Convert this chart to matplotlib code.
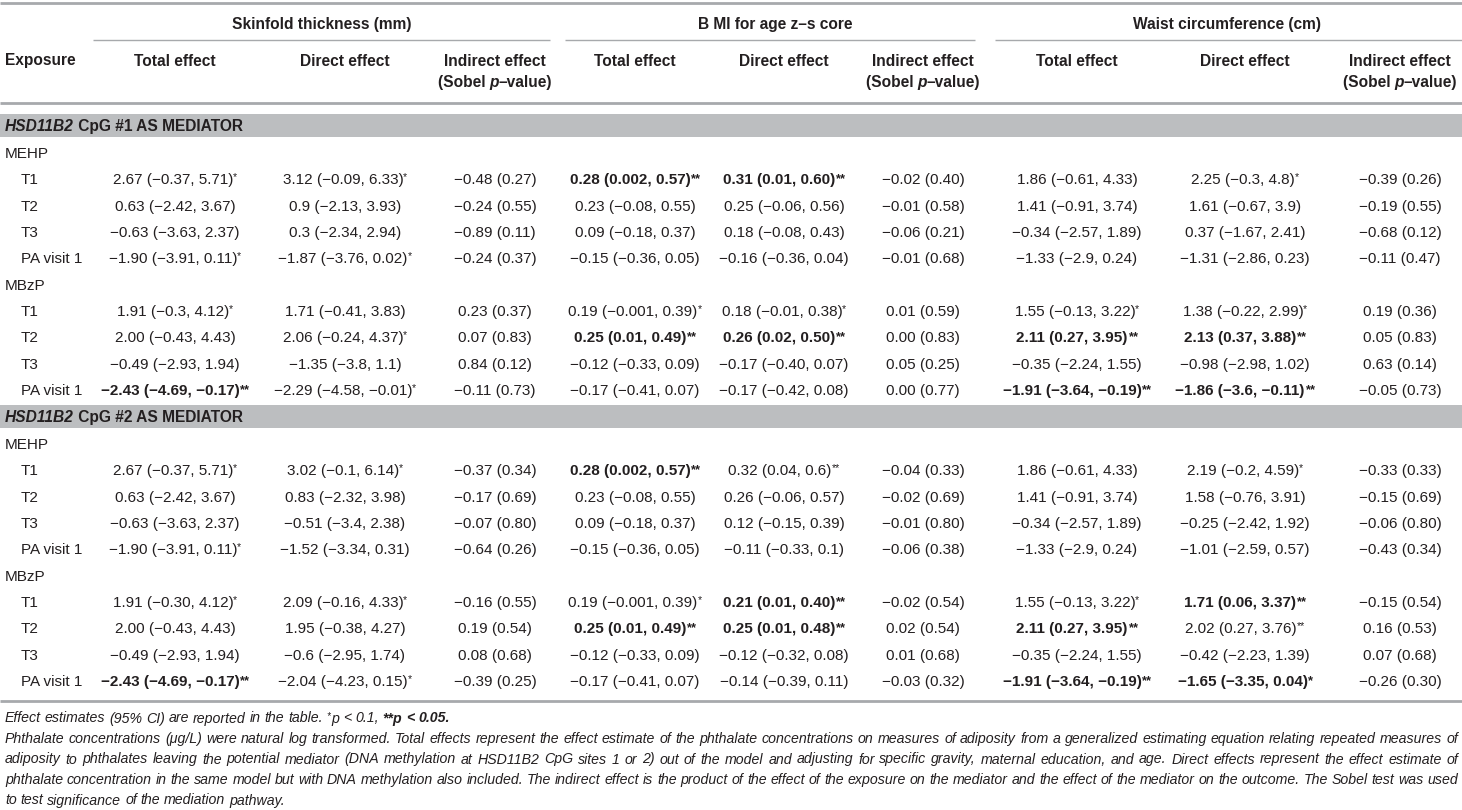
import matplotlib
matplotlib.use("Agg")
import matplotlib.pyplot as plt

plt.rcParams['font.family'] = ['Liberation Sans', 'DejaVu Sans']

# ---- table content ----
outcomes = ["Skinfold thickness (mm)", "B MI for age z\u2013s core", "Waist circumference (cm)"]
effects = ["Total effect", "Direct effect", "Indirect effect"]
indirect_sub = ["(Sobel ", "p", "\u2013value)"]
gene = "HSD11B2"
mediators = [" CpG #1 AS MEDIATOR", " CpG #2 AS MEDIATOR"]
exposures = ["MEHP", "MBzP"]
levels = ["T1", "T2", "T3", "PA visit 1"]

# rows: MEHP T1..PA visit 1, MBzP T1..PA visit 1 ; 9 columns each
cpg1 = [
    ["2.67 (\u22120.37, 5.71)*", "3.12 (\u22120.09, 6.33)*", "\u22120.48 (0.27)", "0.28 (0.002, 0.57)**", "0.31 (0.01, 0.60)**", "\u22120.02 (0.40)", "1.86 (\u22120.61, 4.33)", "2.25 (\u22120.3, 4.8)*", "\u22120.39 (0.26)"],
    ["0.63 (\u22122.42, 3.67)", "0.9 (\u22122.13, 3.93)", "\u22120.24 (0.55)", "0.23 (\u22120.08, 0.55)", "0.25 (\u22120.06, 0.56)", "\u22120.01 (0.58)", "1.41 (\u22120.91, 3.74)", "1.61 (\u22120.67, 3.9)", "\u22120.19 (0.55)"],
    ["\u22120.63 (\u22123.63, 2.37)", "0.3 (\u22122.34, 2.94)", "\u22120.89 (0.11)", "0.09 (\u22120.18, 0.37)", "0.18 (\u22120.08, 0.43)", "\u22120.06 (0.21)", "\u22120.34 (\u22122.57, 1.89)", "0.37 (\u22121.67, 2.41)", "\u22120.68 (0.12)"],
    ["\u22121.90 (\u22123.91, 0.11)*", "\u22121.87 (\u22123.76, 0.02)*", "\u22120.24 (0.37)", "\u22120.15 (\u22120.36, 0.05)", "\u22120.16 (\u22120.36, 0.04)", "\u22120.01 (0.68)", "\u22121.33 (\u22122.9, 0.24)", "\u22121.31 (\u22122.86, 0.23)", "\u22120.11 (0.47)"],
    ["1.91 (\u22120.3, 4.12)*", "1.71 (\u22120.41, 3.83)", "0.23 (0.37)", "0.19 (\u22120.001, 0.39)*", "0.18 (\u22120.01, 0.38)*", "0.01 (0.59)", "1.55 (\u22120.13, 3.22)*", "1.38 (\u22120.22, 2.99)*", "0.19 (0.36)"],
    ["2.00 (\u22120.43, 4.43)", "2.06 (\u22120.24, 4.37)*", "0.07 (0.83)", "0.25 (0.01, 0.49)**", "0.26 (0.02, 0.50)**", "0.00 (0.83)", "2.11 (0.27, 3.95)**", "2.13 (0.37, 3.88)**", "0.05 (0.83)"],
    ["\u22120.49 (\u22122.93, 1.94)", "\u22121.35 (\u22123.8, 1.1)", "0.84 (0.12)", "\u22120.12 (\u22120.33, 0.09)", "\u22120.17 (\u22120.40, 0.07)", "0.05 (0.25)", "\u22120.35 (\u22122.24, 1.55)", "\u22120.98 (\u22122.98, 1.02)", "0.63 (0.14)"],
    ["\u22122.43 (\u22124.69, \u22120.17)**", "\u22122.29 (\u22124.58, \u22120.01)*", "\u22120.11 (0.73)", "\u22120.17 (\u22120.41, 0.07)", "\u22120.17 (\u22120.42, 0.08)", "0.00 (0.77)", "\u22121.91 (\u22123.64, \u22120.19)**", "\u22121.86 (\u22123.6, \u22120.11)**", "\u22120.05 (0.73)"],
]
cpg2 = [
    ["2.67 (\u22120.37, 5.71)*", "3.02 (\u22120.1, 6.14)*", "\u22120.37 (0.34)", "0.28 (0.002, 0.57)**", "0.32 (0.04, 0.6)**", "\u22120.04 (0.33)", "1.86 (\u22120.61, 4.33)", "2.19 (\u22120.2, 4.59)*", "\u22120.33 (0.33)"],
    ["0.63 (\u22122.42, 3.67)", "0.83 (\u22122.32, 3.98)", "\u22120.17 (0.69)", "0.23 (\u22120.08, 0.55)", "0.26 (\u22120.06, 0.57)", "\u22120.02 (0.69)", "1.41 (\u22120.91, 3.74)", "1.58 (\u22120.76, 3.91)", "\u22120.15 (0.69)"],
    ["\u22120.63 (\u22123.63, 2.37)", "\u22120.51 (\u22123.4, 2.38)", "\u22120.07 (0.80)", "0.09 (\u22120.18, 0.37)", "0.12 (\u22120.15, 0.39)", "\u22120.01 (0.80)", "\u22120.34 (\u22122.57, 1.89)", "\u22120.25 (\u22122.42, 1.92)", "\u22120.06 (0.80)"],
    ["\u22121.90 (\u22123.91, 0.11)*", "\u22121.52 (\u22123.34, 0.31)", "\u22120.64 (0.26)", "\u22120.15 (\u22120.36, 0.05)", "\u22120.11 (\u22120.33, 0.1)", "\u22120.06 (0.38)", "\u22121.33 (\u22122.9, 0.24)", "\u22121.01 (\u22122.59, 0.57)", "\u22120.43 (0.34)"],
    ["1.91 (\u22120.30, 4.12)*", "2.09 (\u22120.16, 4.33)*", "\u22120.16 (0.55)", "0.19 (\u22120.001, 0.39)*", "0.21 (0.01, 0.40)**", "\u22120.02 (0.54)", "1.55 (\u22120.13, 3.22)*", "1.71 (0.06, 3.37)**", "\u22120.15 (0.54)"],
    ["2.00 (\u22120.43, 4.43)", "1.95 (\u22120.38, 4.27)", "0.19 (0.54)", "0.25 (0.01, 0.49)**", "0.25 (0.01, 0.48)**", "0.02 (0.54)", "2.11 (0.27, 3.95)**", "2.02 (0.27, 3.76)**", "0.16 (0.53)"],
    ["\u22120.49 (\u22122.93, 1.94)", "\u22120.6 (\u22122.95, 1.74)", "0.08 (0.68)", "\u22120.12 (\u22120.33, 0.09)", "\u22120.12 (\u22120.32, 0.08)", "0.01 (0.68)", "\u22120.35 (\u22122.24, 1.55)", "\u22120.42 (\u22122.23, 1.39)", "0.07 (0.68)"],
    ["\u22122.43 (\u22124.69, \u22120.17)**", "\u22122.04 (\u22124.23, 0.15)*", "\u22120.39 (0.25)", "\u22120.17 (\u22120.41, 0.07)", "\u22120.14 (\u22120.39, 0.11)", "\u22120.03 (0.32)", "\u22121.91 (\u22123.64, \u22120.19)**", "\u22121.65 (\u22123.35, 0.04)*", "\u22120.26 (0.30)"],
]
# (row, column) of the cells printed in bold
bold1 = [(0, 3), (0, 4), (5, 3), (5, 4), (5, 6), (5, 7), (7, 0), (7, 6), (7, 7)]
bold2 = [(0, 3), (4, 4), (4, 7), (5, 3), (5, 4), (5, 6), (7, 0), (7, 6), (7, 7)]

note_first = ["Effect", "estimates", "(95%", "CI)", "are", "reported", "in", "the", "table."]
note_lines = [
    "Phthalate concentrations (\u03bcg/L) were natural log transformed. Total effects represent the effect estimate of the phthalate concentrations on measures of adiposity from a generalized estimating equation relating repeated measures of",
    "adiposity to phthalates leaving the potential mediator (DNA methylation at HSD11B2 CpG sites 1 or 2) out of the model and adjusting for specific gravity, maternal education, and age. Direct effects represent the effect estimate of",
    "phthalate concentration in the same model but with DNA methylation also included. The indirect effect is the product of the effect of the exposure on the mediator and the effect of the mediator on the outcome. The Sobel test was used",
    "to test significance of the mediation pathway.",
]

# ---- figure ----
W, H = 1462, 810
TXT = '#231f20'
RULE = '#a7a9ac'
BAND = '#bcbec0'
FS = 11.0
HFS = 11.2

fig = plt.figure(figsize=(W / 100, H / 100), dpi=100)
ax = fig.add_axes([0, 0, 1, 1])
ax.set_xlim(0, W)
ax.set_ylim(H, 0)
ax.axis('off')
rend = fig.canvas.get_renderer()


def width(t):
    return t.get_window_extent(renderer=rend).width


def probe(s, **kw):
    t = ax.text(0, 0, s, **kw)
    w = width(t)
    t.remove()
    return w


def runs(x, y, parts, align='center'):
    # parts: (text, fontsize, weight, style, dy)
    objs = []
    cur = 0.0
    for s, fs, wt, st, dy in parts:
        t = ax.text(cur, y + dy, s, ha='left', va='baseline', fontsize=fs,
                    fontweight=wt, fontstyle=st, color=TXT)
        objs.append(t)
        cur += width(t)
    off = x - cur / 2 if align == 'center' else x
    for t in objs:
        t.set_x(t.get_position()[0] + off)
    return cur


def cell(x, y, s, bold):
    n = len(s) - len(s.rstrip('*'))
    main = s[:len(s) - n]
    wt = 'bold' if bold else 'normal'
    parts = [(main, FS, wt, 'normal', 0)]
    if n:
        if bold:
            parts.append(('*' * n, FS * 0.85, 'bold', 'normal', -2))
        else:
            parts.append(('*' * n, FS * 0.7, 'normal', 'normal', -4))
    runs(x, y, parts)


col_x = [175, 345, 495, 635, 784, 923, 1077, 1245, 1400]
group_x = [322, 775, 1227]
group_lines = [(93, 550), (565, 975), (995, W)]

# rules
ax.hlines(2.5, 0, W, color=RULE, lw=2)
for x0, x1 in group_lines:
    ax.hlines(40, x0, x1, color=RULE, lw=1)
ax.hlines(103, 0, W, color=RULE, lw=2)
ax.hlines(701, 0, W, color=RULE, lw=2)

# header
b = 5.5
for gx, name in zip(group_x, outcomes):
    runs(gx, 23 + b, [(name, HFS, 'bold', 'normal', 0)])
ax.text(5, 60 + b, "Exposure", ha='left', va='baseline', fontsize=HFS,
        fontweight='bold', color=TXT)
for k in range(3):
    for j, e in enumerate(effects):
        cx = col_x[3 * k + j]
        runs(cx, 60 + b, [(e, HFS, 'bold', 'normal', 0)])
        if j == 2:
            runs(cx, 81 + b, [(indirect_sub[0], HFS, 'bold', 'normal', 0),
                              (indirect_sub[1], HFS, 'bold', 'italic', 0),
                              (indirect_sub[2], HFS, 'bold', 'normal', 0)])

# body
pitch = 26.35
blocks = [(125.5, cpg1, bold1), (416.5, cpg2, bold2)]
for bi, (yb, rows, bolds) in enumerate(blocks):
    ax.axhspan(yb - 11.5, yb + 11.5, color=BAND, lw=0)
    runs(5, yb + b, [(gene, HFS, 'bold', 'italic', 0),
                     (mediators[bi], HFS, 'bold', 'normal', 0)], align='left')
    y = yb + 27
    r = 0
    for exp in exposures:
        ax.text(5, y + b, exp, ha='left', va='baseline', fontsize=FS, color=TXT)
        y += pitch
        for lev in levels:
            ax.text(21, y + b, lev, ha='left', va='baseline', fontsize=FS, color=TXT)
            for c, s in enumerate(rows[r]):
                cell(col_x[c], y + b, s, (r, c) in bolds)
            y += pitch
            r += 1

# footnotes: pick the size so the justified lines keep normal word spacing
base = 9.3
sp0 = probe("a a", fontsize=base, fontstyle='italic') - probe("aa", fontsize=base, fontstyle='italic')
natural = max(sum(probe(wd, fontsize=base, fontstyle='italic') for wd in ln.split(' '))
              + sp0 * (len(ln.split(' ')) - 1) for ln in note_lines[:-1])
NFS = min(10.3, base * (W - 14) / natural)
sp = probe("a a", fontsize=NFS, fontstyle='italic') - probe("aa", fontsize=NFS, fontstyle='italic')

ny = 718 + 4.5
npitch = 20.5
x = 5
for wd in note_first:
    t = ax.text(x, ny, wd, ha='left', va='baseline', fontsize=NFS, fontstyle='italic', color=TXT)
    x += width(t) + sp
t = ax.text(x, ny - 3, "*", ha='left', va='baseline', fontsize=NFS * 0.7, fontstyle='italic', color=TXT)
x += width(t) + 1
for wd in ["p", "<", "0.1,"]:
    t = ax.text(x, ny, wd, ha='left', va='baseline', fontsize=NFS, fontstyle='italic', color=TXT)
    x += width(t) + sp
for wd in ["**p", "<", "0.05."]:
    t = ax.text(x, ny, wd, ha='left', va='baseline', fontsize=NFS, fontstyle='italic',
                fontweight='bold', color=TXT)
    x += width(t) + sp

for i, line in enumerate(note_lines):
    yy = ny + npitch * (i + 1)
    words = line.split(' ')
    objs = [ax.text(0, yy, wd, ha='left', va='baseline', fontsize=NFS,
                    fontstyle='italic', color=TXT) for wd in words]
    ws = [width(t) for t in objs]
    if i < len(note_lines) - 1:
        gap = (W - 4 - 5 - sum(ws)) / (len(words) - 1)
    else:
        gap = sp
    x = 5
    for t, w in zip(objs, ws):
        t.set_x(x)
        x += w + gap

fig.savefig("out.png", dpi=100)
